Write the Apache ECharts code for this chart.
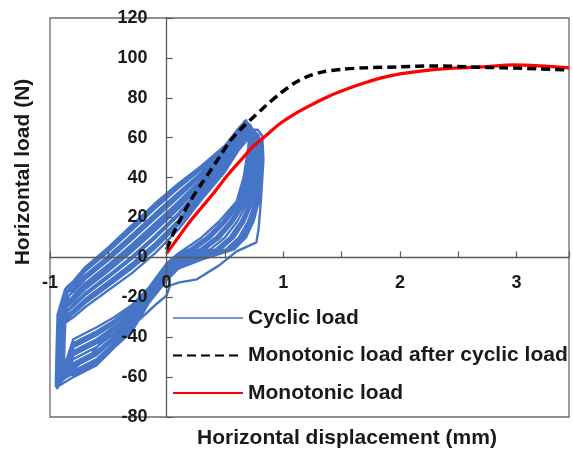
<!DOCTYPE html>
<html><head><meta charset="utf-8">
<script src="https://cdn.jsdelivr.net/npm/echarts@6/dist/echarts.min.js"></script>
<style>html,body{margin:0;padding:0;background:#fff}#c{width:573px;height:452px}</style>
</head><body><div id="c"></div>
<script>
const seriesNames = ['Cyclic load', 'Monotonic load after cyclic load', 'Monotonic load'];
const xTickLabels = [-1, 0, 1, 2, 3];
const xTitle = 'Horizontal displacement (mm)';
const yTitle = 'Horizontal load (N)';

// cyclic hysteresis loops [displacement mm, load N]
const cycle0 = [[-0.93,-64],[-0.925,-50],[-0.915,-32.5],[-0.86,-24],[-0.8,-21],[-0.7,-15],[-0.5,-5.75],[-0.3,4],[-0.1,14.5],[0.1,25.5],[0.3,37.5],[0.5,49.5],[0.62,59.5],[0.72,64],[0.78,64],[0.82,61],[0.83,49],[0.81,30],[0.79,15],[0.77,7.5],[0.6,3],[0.45,-4],[0.26,-11],[0.11,-12.5],[0.03,-14],[0,-19],[-0.1,-24],[-0.23,-31],[-0.38,-38.5],[-0.52,-39.5],[-0.66,-49.5],[-0.8,-56]];
const cycle1 = [[-0.95,-65],[-0.945,-51],[-0.935,-39],[-0.875,-33],[-0.8,-30],[-0.7,-25],[-0.5,-16.5],[-0.3,-8],[-0.1,2],[0.1,14],[0.3,29],[0.5,43],[0.62,54],[0.75,63],[0.79,59],[0.808,55],[0.804,40],[0.78,28],[0.729,18],[0.66,10],[0.555,4],[0.3,-0.7],[0.1,-5.2],[0,-11.1],[-0.15,-22.2],[-0.3,-36.6],[-0.45,-44.4],[-0.6,-53],[-0.8,-59]];
const cycle2 = [[-0.94,-63],[-0.935,-49],[-0.925,-37],[-0.87,-30],[-0.8,-27.3],[-0.7,-22],[-0.5,-13.3],[-0.3,-4.4],[-0.1,5.75],[0.1,17.45],[0.3,31.6],[0.5,45],[0.62,55.7],[0.73,64],[0.77,60],[0.784,55],[0.772,40],[0.74,28],[0.667,18],[0.58,10],[0.465,4],[0.3,0.9],[0.1,-3.6],[0,-9.3],[-0.15,-20.6],[-0.3,-33.8],[-0.45,-41.2],[-0.6,-49],[-0.8,-55]];
const cycle3 = [[-0.93,-61],[-0.925,-47],[-0.915,-35],[-0.865,-27.6],[-0.8,-24.6],[-0.7,-19],[-0.5,-10.05],[-0.3,-0.8],[-0.1,9.5],[0.1,20.9],[0.3,34.1],[0.5,46.9],[0.62,57.3],[0.71,66],[0.75,62],[0.76,55],[0.74,40],[0.70,28],[0.605,18],[0.50,10],[0.375,4],[0.3,2.5],[0.1,-2],[0,-7.5],[-0.15,-19],[-0.3,-31],[-0.45,-38],[-0.6,-45],[-0.8,-51]];
const cycle4 = [[-0.91,-58],[-0.905,-44],[-0.895,-33.2],[-0.855,-24.9],[-0.8,-21.9],[-0.7,-16],[-0.5,-6.8],[-0.3,2.8],[-0.1,13.25],[0.1,24.35],[0.3,36.7],[0.5,48.9],[0.62,59],[0.7,67],[0.74,63],[0.736,55],[0.708,40],[0.66,28],[0.543,18],[0.42,10],[0.285,4],[0.1,-0.4],[0,-5.7],[-0.15,-17.4],[-0.3,-28.2],[-0.45,-34.8],[-0.6,-41],[-0.8,-47]];
const cycle5 = [[-0.89,-56],[-0.885,-42],[-0.875,-31.2],[-0.845,-22.2],[-0.8,-19.2],[-0.7,-13],[-0.5,-3.6],[-0.3,6.4],[-0.1,17],[0.1,27.8],[0.3,39.2],[0.5,50.8],[0.62,60.6],[0.69,68],[0.73,64],[0.712,55],[0.676,40],[0.62,28],[0.481,18],[0.34,10],[0.195,4],[0.1,1.2],[0,-3.9],[-0.15,-15.8],[-0.3,-25.4],[-0.45,-31.6],[-0.6,-37],[-0.8,-43]];
const cycle6 = [[-0.88,-55],[-0.875,-41],[-0.865,-29.2],[-0.84,-19.5],[-0.8,-16.5],[-0.7,-10],[-0.5,-0.4],[-0.3,10],[-0.1,20.75],[0.1,31.25],[0.3,41.8],[0.5,52.8],[0.62,62.3],[0.68,69],[0.71,64],[0.70,55],[0.66,40],[0.60,28],[0.45,18],[0.30,10],[0.15,4],[0.1,2],[0,-3],[-0.15,-15],[-0.3,-24],[-0.45,-30],[-0.6,-35],[-0.8,-41]];
const cycle7 = [[-0.9,-59],[-0.895,-45],[-0.885,-27.3],[-0.85,-16.8],[-0.8,-13.8],[-0.7,-7],[-0.5,2.85],[-0.3,13.6],[-0.1,24.5],[0.1,34.7],[0.3,44.3],[0.5,54.7],[0.62,63.9],[0.67,68.5],[0.71,64],[0.724,55],[0.692,40],[0.64,28],[0.512,18],[0.38,10],[0.24,4],[0.1,0.4],[0,-4.8],[-0.15,-16.6],[-0.3,-26.8],[-0.45,-33.2],[-0.6,-39],[-0.8,-45]];
const cycle8 = [[-0.92,-62],[-0.915,-48],[-0.905,-26],[-0.86,-15],[-0.8,-12],[-0.7,-5],[-0.5,5],[-0.3,16],[-0.1,27],[0.1,37],[0.3,46],[0.5,56],[0.62,65],[0.66,67.5],[0.7,64],[0.748,55],[0.724,40],[0.68,28],[0.574,18],[0.46,10],[0.33,4],[0.1,-1.2],[0,-6.6],[-0.15,-18.2],[-0.3,-29.6],[-0.45,-36.4],[-0.6,-43],[-0.8,-49]];
const cycle9 = [[-0.94,-66],[-0.935,-52],[-0.925,-31.9],[-0.87,-23.1],[-0.8,-20.1],[-0.7,-14],[-0.5,-4.7],[-0.3,5.2],[-0.1,15.75],[0.1,26.65],[0.3,38.4],[0.5,50.2],[0.62,60.1],[0.72,65],[0.77,61],[0.796,55],[0.788,40],[0.76,28],[0.698,18],[0.62,10],[0.51,4],[0.3,0.1],[0.1,-4.4],[0,-10.2],[-0.15,-21.4],[-0.3,-35.2],[-0.45,-42.8],[-0.6,-51],[-0.8,-57]];
const cycle10 = [[-0.93,-60],[-0.925,-47],[-0.915,-36.4],[-0.865,-29.4],[-0.8,-26.4],[-0.7,-21],[-0.5,-12.2],[-0.3,-3.2],[-0.1,7],[0.1,18.6],[0.3,32.4],[0.5,45.6],[0.62,56.2],[0.73,63],[0.76,60],[0.772,55],[0.756,40],[0.72,28],[0.636,18],[0.54,10],[0.42,4],[0.3,1.7],[0.1,-2.8],[0,-8.4],[-0.15,-19.8],[-0.3,-32.4],[-0.45,-39.6],[-0.6,-47],[-0.8,-53]];
const cycle11 = [[-0.95,-64],[-0.945,-50],[-0.935,-28.6],[-0.88,-18.6],[-0.8,-15.6],[-0.7,-9],[-0.5,0.7],[-0.3,11.2],[-0.1,22],[0.1,32.4],[0.3,42.6],[0.5,53.4],[0.62,62.8],[0.74,64],[0.79,61],[0.814,55],[0.812,40],[0.79,28],[0.745,18],[0.68,10],[0.578,4],[0.3,-1.1],[0.1,-5.6],[0,-11.55],[-0.15,-22.6],[-0.3,-37.3],[-0.45,-45.2],[-0.6,-54],[-0.8,-60]];
const cycle12 = [[-0.9,-57],[-0.895,-43],[-0.885,-34.5],[-0.85,-26.7],[-0.8,-23.7],[-0.7,-18],[-0.5,-8.98],[-0.3,0.4],[-0.1,10.75],[0.1,22.05],[0.3,34.95],[0.5,47.55],[0.62,57.85],[0.7,66.5],[0.73,63],[0.718,55],[0.684,40],[0.63,28],[0.4965,18],[0.36,10],[0.2175,4],[0.1,0.8],[0,-4.35],[-0.15,-16.2],[-0.3,-26.1],[-0.45,-32.4],[-0.6,-38],[-0.8,-44]];
const cycle13 = [[-0.93,-62],[-0.925,-48],[-0.915,-29.9],[-0.87,-20.4],[-0.8,-17.4],[-0.7,-11],[-0.5,-1.45],[-0.3,8.8],[-0.1,19.5],[0.1,30.1],[0.3,40.9],[0.5,52.1],[0.62,61.7],[0.71,67],[0.75,63],[0.778,55],[0.764,40],[0.73,28],[0.6515,18],[0.56,10],[0.4425,4],[0.3,1.3],[0.1,-3.2],[0,-8.85],[-0.15,-20.2],[-0.3,-33.1],[-0.45,-40.4],[-0.6,-48],[-0.8,-54]];
const cycle14 = [[-0.92,-60],[-0.915,-46],[-0.905,-37.7],[-0.86,-31.2],[-0.8,-28.2],[-0.7,-23],[-0.5,-14.35],[-0.3,-5.6],[-0.1,4.5],[0.1,16.3],[0.3,30.7],[0.5,44.3],[0.62,55.1],[0.72,64.5],[0.75,61],[0.742,55],[0.716,40],[0.67,28],[0.5585,18],[0.44,10],[0.3075,4],[0.1,-0.8],[0,-6.15],[-0.15,-17.8],[-0.3,-28.9],[-0.45,-35.6],[-0.6,-42],[-0.8,-48]];
const cycle15 = [[-0.94,-65],[-0.935,-51],[-0.925,-26.65],[-0.87,-15.9],[-0.8,-12.9],[-0.7,-6],[-0.5,3.9],[-0.3,14.8],[-0.1,25.75],[0.1,35.85],[0.3,45.15],[0.5,55.35],[0.62,64.45],[0.7,66],[0.75,62],[0.802,55],[0.796,40],[0.77,28],[0.7135,18],[0.64,10],[0.5325,4],[0.3,-0.3],[0.1,-4.8],[0,-10.65],[-0.15,-21.8],[-0.3,-35.9],[-0.45,-43.6],[-0.6,-52],[-0.8,-58],[-0.94,-63]];

const monotonicAfterCyclic = [[0,4],[0.05,11],[0.1,17],[0.2,28],[0.3,37],[0.37,43],[0.45,50],[0.54,58],[0.63,64],[0.72,69],[0.85,76],[0.97,82],[1.1,87.5],[1.2,90.5],[1.34,93],[1.5,94.3],[1.7,95],[2.0,95.5],[2.3,96],[2.6,95.5],[2.9,95],[3.2,94.5],[3.45,94]];
const monotonic = [[0,2],[0.05,6],[0.1,10],[0.2,18],[0.3,25],[0.4,32],[0.52,41],[0.64,49],[0.74,55.5],[0.86,61.5],[0.97,67],[1.1,72],[1.26,77],[1.4,81],[1.55,84.5],[1.7,87.5],[1.84,90],[2.0,92],[2.27,94],[2.5,95],[2.7,95.5],[2.98,96.5],[3.2,96],[3.45,95]];

const cyclic = [].concat(cycle0, cycle1, cycle12, cycle2, cycle13, cycle3, cycle14, cycle4, cycle5, cycle6, cycle7, cycle8, cycle9, cycle10, cycle11, cycle15);

const FONT = "'Liberation Sans', Arial, sans-serif";
const X_MIN = -1, X_MAX = 3.45, Y_MIN = -80, Y_MAX = 120;
const G = {left: 50, right: 4, top: 18, bottom: 35, W: 573, H: 452};
// shift the axes so they cross at zero (layout offsets, in pixels)
const plotW = G.W - G.left - G.right, plotH = G.H - G.top - G.bottom;
const xAxisOffset = -plotH * (0 - Y_MIN) / (Y_MAX - Y_MIN);
const yAxisOffset = -plotW * (0 - X_MIN) / (X_MAX - X_MIN);

const chart = echarts.init(document.getElementById('c'), null, {renderer: 'canvas'});
chart.setOption({
  animation: false,
  backgroundColor: '#fff',
  grid: {left: G.left, right: G.right, top: G.top, bottom: G.bottom, show: true, borderColor: '#6b6b6b', borderWidth: 1.3, containLabel: false},
  legend: {
    orient: 'vertical', left: 172, top: 307, padding: 0, itemWidth: 70, itemHeight: 14, itemGap: 15.5,
    data: [
      {name: seriesNames[0], lineStyle: {width: 1.5}},
      {name: seriesNames[1]},
      {name: seriesNames[2]}
    ],
    itemStyle: {opacity: 0},
    textStyle: {fontFamily: FONT, fontSize: 21, fontWeight: 'bold', color: '#1a1a1a', lineHeight: 22}
  },
  xAxis: {
    type: 'value', min: X_MIN, max: X_MAX, interval: 0.5, z: 5, position: 'bottom', offset: xAxisOffset,
    axisLine: {onZero: false, lineStyle: {color: '#5a5a5a', width: 1.3}},
    axisTick: {inside: true, length: 6, lineStyle: {color: '#5a5a5a', width: 1.2}},
    axisLabel: {margin: 17, fontFamily: FONT, fontSize: 18, fontWeight: 'bold', color: '#1a1a1a',
      formatter: v => xTickLabels.indexOf(Math.round(v * 100) / 100) >= 0 ? String(v) : ''},
    splitLine: {show: false}
  },
  yAxis: {
    type: 'value', min: Y_MIN, max: Y_MAX, interval: 20, z: 5, position: 'left', offset: yAxisOffset,
    axisLine: {onZero: false, lineStyle: {color: '#5a5a5a', width: 1.3}},
    axisTick: {inside: true, length: 6, lineStyle: {color: '#5a5a5a', width: 1.2}},
    axisLabel: {margin: 19, fontFamily: FONT, fontSize: 18, fontWeight: 'bold', color: '#1a1a1a'},
    splitLine: {show: false}
  },
  graphic: [
    {type: 'text', x: 347, y: 438, style: {text: xTitle, font: "bold 21px 'Liberation Sans', Arial, sans-serif", fill: '#1a1a1a', textAlign: 'center', textVerticalAlign: 'middle'}},
    {type: 'text', x: 23, y: 172, rotation: Math.PI / 2, style: {text: yTitle, font: "bold 21px 'Liberation Sans', Arial, sans-serif", fill: '#1a1a1a', textAlign: 'center', textVerticalAlign: 'middle'}}
  ],
  series: [
    {name: seriesNames[0], type: 'line', data: cyclic, symbol: 'none', showSymbol: false, z: 2,
      lineStyle: {color: '#4674c6', width: 2.4}, itemStyle: {color: '#4674c6'}},
    {name: seriesNames[1], type: 'line', data: monotonicAfterCyclic, symbol: 'none', showSymbol: false, z: 4, smooth: 0.3,
      lineStyle: {color: '#000', width: 3.5, type: [9, 5]}, itemStyle: {color: '#000'}},
    {name: seriesNames[2], type: 'line', data: monotonic, symbol: 'none', showSymbol: false, z: 3, smooth: 0.3,
      lineStyle: {color: '#ff0000', width: 3.2}, itemStyle: {color: '#ff0000'}}
  ]
});
</script>
</body></html>
